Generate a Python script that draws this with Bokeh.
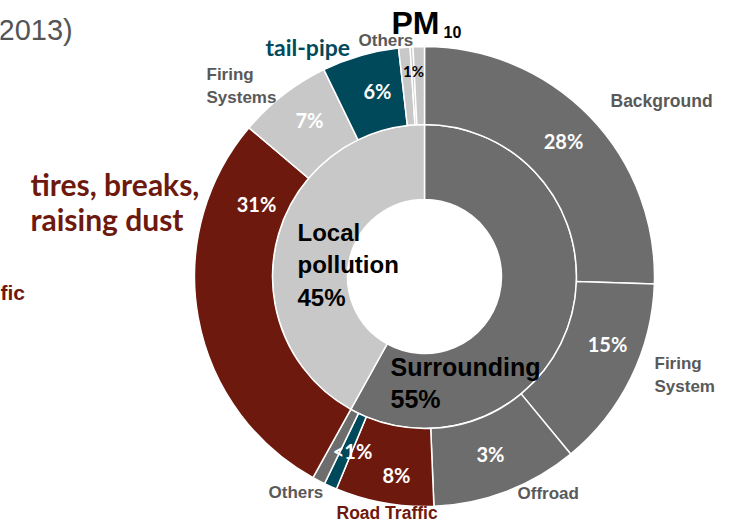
import numpy as np
from bokeh.plotting import figure
from bokeh.models import Range1d
from bokeh.core.properties import value
from bokeh.embed import file_html
from bokeh.resources import INLINE

# ---------------- data ----------------
# outer ring (clockwise from 12 o'clock): angular shares
outer_names = ["Background", "Firing System", "Offroad", "Road Traffic", "tail-pipe (road)",
               "Others (surr.)", "tires, breaks, raising dust", "Firing Systems",
               "tail-pipe", "Others a", "Others b", "Others c"]
outer_share = [25.5, 13.5, 10.3, 6.9, 0.9, 0.9, 28.1, 6.6, 5.4, 0.8, 0.2, 0.8]
outer_group = ["Surrounding"] * 6 + ["Local pollution"] * 6
outer_pct_text = ["28%", "15%", "3%", "8%", "<1%", "", "31%", "7%", "6%", "1%", "", ""]
outer_kind = ["dark", "dark", "dark", "red", "teal", "dark", "red", "light", "teal", "light", "light", "light"]

inner_names = ["Surrounding", "Local pollution"]
inner_pct_text = ["55%", "45%"]

# ---------------- style ----------------
W, H = 731, 527
CX, CY = 424, H - 276
R_HOLE, R_MID, R_OUT = 77, 152, 230
COL = {"dark": "#6d6d6d", "light": "#c8c8c8", "red": "#6e190e", "teal": "#00495a"}
INNER_COL = {"Surrounding": "#6d6d6d", "Local pollution": "#c8c8c8"}
LABEL_GREY = "#595959"
RED_TXT = "#6e190e"
TEAL_TXT = "#004a5c"

p = figure(width=W, height=H, x_range=Range1d(0, W), y_range=Range1d(0, H),
           output_backend="svg", toolbar_location=None, min_border=0)
p.axis.visible = False
p.grid.visible = False
p.outline_line_color = None
p.background_fill_color = "white"
p.border_fill_color = "white"

def wedges(shares):
    s = np.array(shares, dtype=float)
    frac = s / s.sum()
    cum = np.concatenate([[0], np.cumsum(frac)])
    start = np.pi / 2 - 2 * np.pi * cum[:-1]
    end = np.pi / 2 - 2 * np.pi * cum[1:]
    return start, end

# inner ring from group sums of the outer ring
inner_share = [sum(v for v, g in zip(outer_share, outer_group) if g == n) for n in inner_names]
s_in, e_in = wedges(inner_share)
p.annular_wedge(x=CX, y=CY, inner_radius=R_HOLE, outer_radius=R_MID,
                start_angle=s_in, end_angle=e_in, direction="clock",
                fill_color=[INNER_COL[n] for n in inner_names],
                line_color="white", line_width=1.5)

s_out, e_out = wedges(outer_share)
p.annular_wedge(x=CX, y=CY, inner_radius=R_MID, outer_radius=R_OUT,
                start_angle=s_out, end_angle=e_out, direction="clock",
                fill_color=[COL[k] for k in outer_kind],
                line_color="white", line_width=1.5)

def txt(x, y, s, size, color, font="Liberation Sans", style="bold", align="left", baseline="middle"):
    p.text(x=[x], y=[H - y], text=[s], text_font=value(font), text_font_size=f"{size}px",
           text_color=color, text_font_style=style, text_align=align, text_baseline=baseline)

# percentage labels in the outer ring (layout positions, screen px)
pct_pos = {"28%": (563, 140), "15%": (607, 343), "3%": (490, 453), "8%": (396, 474),
           "<1%": (352, 450), "31%": (256, 203), "7%": (309, 119), "6%": (377, 90)}
for t in outer_pct_text:
    if t in pct_pos:
        x, y = pct_pos[t]
        txt(x, y, t, 20, "white", font="Lato", align="center")
txt(413, 70, outer_pct_text[9], 15, "black", font="Lato", align="center")

# inner ring labels
txt(297, 232, "Local", 24, "black")
txt(297, 264, "pollution", 24, "black")
txt(297, 297, inner_pct_text[1], 24, "black")
txt(390, 366, inner_names[0], 25, "black")
txt(390, 398, inner_pct_text[0], 25, "black")

# outside labels
txt(610, 100, "Background", 17.5, LABEL_GREY)
txt(654, 363, "Firing", 17, LABEL_GREY)
txt(654, 386, "System", 17, LABEL_GREY)
txt(517, 493, "Offroad", 17, LABEL_GREY)
txt(336, 512, "Road Traffic", 17.5, RED_TXT)
txt(268, 492, "Others", 17, LABEL_GREY)
txt(206, 74, "Firing", 17, LABEL_GREY)
txt(206, 97, "Systems", 17, LABEL_GREY)
txt(358, 40, "Others", 17, LABEL_GREY)
txt(265, 46, "tail-pipe", 23, TEAL_TXT, font="Lato")
txt(30, 183, "tires, breaks,", 30, RED_TXT, font="Lato")
txt(30, 218, "raising dust", 30, RED_TXT, font="Lato")
txt(0, 292, "fic", 21, RED_TXT)
txt(-2, 29, "2013)", 29, "#555555", style="normal")
txt(391, 22, "PM", 32, "black")
txt(443, 31, "10", 16, "black")

open("out.html", "w").write(file_html(p, INLINE))
